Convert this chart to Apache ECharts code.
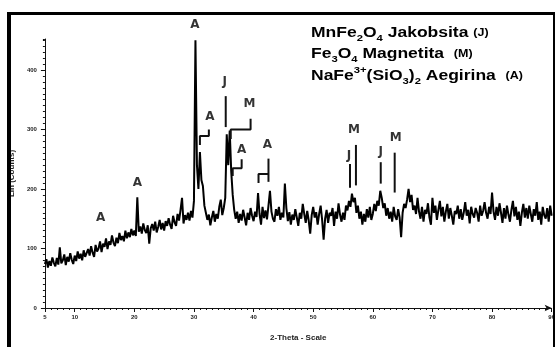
<!DOCTYPE html>
<html>
<head>
<meta charset="utf-8">
<script src="https://cdn.jsdelivr.net/npm/echarts@6/dist/echarts.min.js"></script>
<style>html,body{margin:0;padding:0;background:#fff;}#c{width:558px;height:347px;}</style>
</head>
<body>
<div id="c"></div>
<script>
// ---- data ----
const thetaStart = 5;
const thetaStep = 0.25;
const counts = [
  74, 82, 68, 79,   71, 85, 76, 70,   84, 73, 102, 75,  80, 90, 72, 86,   78, 92, 81, 74,      // 5-9.75
  88, 79, 95, 83,   91, 80, 97, 86,   84, 99, 88, 104,  93, 86, 106, 95,  100, 112, 94, 108,   // 10-14.75
  103, 117, 99, 112, 106, 122, 110, 104, 118, 109, 126, 114, 121, 112, 130, 117, 127, 119, 133, 122, // 15-19.75
  130, 121, 186, 128, 137, 125, 142, 131, 126, 139, 108, 134, 141, 130, 145, 127, 136, 148, 132, 143, // 20-24.75
  130, 146, 138, 151, 140, 133, 155, 144, 138, 158, 147, 165, 185, 142, 156, 148, 160, 147, 163, 152, // 25-29.75
  180, 450, 240, 200, 262, 215, 205, 172, 160, 148, 157, 139, 152, 163, 145, 158, 150, 170, 182, 156, // 30-34.75
  168, 185, 292, 240, 298, 230, 190, 165, 150, 162, 143, 158, 147, 165, 152, 139, 160, 148, 168, 155, // 35-39.75
  146, 162, 153, 193, 158, 140, 170, 151, 164, 149, 172, 197, 162, 150, 145, 166, 155, 170, 148, 160, // 40-44.75
  152, 209, 168, 146, 161, 140, 157, 148, 166, 152, 138, 160, 150, 175, 158, 143, 163, 147, 125, 156, // 45-49.75
  170, 152, 161, 140, 158, 172, 148, 115, 150, 165, 143, 160, 155, 168, 138, 162, 150, 176, 157, 145, // 50-54.75
  160, 148, 172, 164, 180, 170, 192, 178, 185, 160, 172, 150, 162, 140, 158, 145, 166, 152, 170, 148, // 55-59.75
  158, 175, 163, 180, 172, 197, 185, 168, 176, 155, 168, 150, 162, 145, 170, 154, 148, 166, 152, 119, // 60-64.75
  160, 175, 168, 182, 200, 178, 190, 165, 172, 158, 185, 162, 150, 170, 145, 165, 158, 176, 152, 140, // 65-69.75
  185, 160, 172, 148, 165, 180, 154, 170, 145, 162, 175, 150, 168, 155, 140, 163, 158, 172, 150, 166, // 70-74.75
  148, 160, 178, 155, 165, 142, 170, 158, 152, 168, 160, 145, 172, 155, 163, 178, 160, 150, 170, 158, // 75-79.75
  194, 162, 148, 170, 155, 176, 160, 143, 168, 150, 172, 157, 145, 165, 180, 154, 170, 148, 162, 138, // 80-84.75
  160, 175, 152, 168, 150, 172, 158, 145, 166, 155, 178, 148, 162, 140, 170, 156, 150, 168, 145, 172, // 85-89.75
  155                                                                                                  // 90
];
const xTickLabels = [5, 10, 20, 30, 40, 50, 60, 70, 80, 90];
const yTickLabels = [0, 100, 200, 300, 400];
const peakLabels      = ['A',   'A',   'A',   'A',   'J',   'M',   'A',  'A',   'J',  'M',   'J',   'M'];
const peakLabelTheta  = [30.17, 20.5,  14.33, 32.67, 35.17, 39.33, 38.0, 42.33, 56.0, 56.83, 61.33, 63.83];
const peakLabelCount  = [475,   210,   152,   321,   380,   343,   266,  274,   256,  299,   263,   286];
const markerPaths = [
  [[35.33, 356], [35.33, 304]],
  [[32.5, 300], [32.5, 289], [31.0, 289], [31.0, 274]],
  [[39.5, 318], [39.5, 300], [36.17, 300], [36.17, 284]],
  [[38.0, 250], [38.0, 235], [36.5, 235], [36.5, 222]],
  [[42.5, 251], [42.5, 212]],
  [[42.5, 225], [40.83, 225], [40.83, 210]],
  [[56.17, 242], [56.17, 202]],
  [[57.17, 274], [57.17, 206]],
  [[61.33, 245], [61.33, 209]],
  [[63.67, 261], [63.67, 194]]
];

// ---- chart ----
const chart = echarts.init(document.getElementById('c'), null, {renderer: 'canvas'});
const traceData = counts.map((c, i) => [thetaStart + i * thetaStep, c]);
const labelData = peakLabels.map((t, i) => ({name: t, value: [peakLabelTheta[i], peakLabelCount[i]]}));

const richLegend = {
  m: {fontSize: 14, fontWeight: 'bold', fontFamily: 'Liberation Sans', lineHeight: 20, fill: '#000', color: '#000'},
  s: {fontSize: 9, fontWeight: 'bold', fontFamily: 'Liberation Sans', lineHeight: 10, verticalAlign: 'bottom', fill: '#000', color: '#000'},
  u: {fontSize: 9, fontWeight: 'bold', fontFamily: 'Liberation Sans', lineHeight: 14, verticalAlign: 'top', fill: '#000', color: '#000'},
  p: {fontSize: 10, fontWeight: 'bold', fontFamily: 'Liberation Sans', lineHeight: 20, verticalAlign: 'middle', fill: '#000', color: '#000'}
};
function legendText(txt, x, y) {
  return {type: 'text', x: x, y: y, scaleX: 1.25, z: 100,
    style: {text: txt, rich: richLegend, verticalAlign: 'top', align: 'left', fill: '#000'}};
}

const lineSeries = markerPaths.map(p => ({
  type: 'line', data: p, symbol: 'none', clip: false, silent: true, z: 5,
  lineStyle: {color: '#111', width: 2}, animation: false
}));

chart.setOption({
  backgroundColor: '#fff',
  animation: false,
  grid: {left: 42, right: 6, top: 39, bottom: 31},
  xAxis: [{
    type: 'value', min: 5, max: 90, interval: 5,
    name: '2-Theta - Scale', nameLocation: 'middle', nameGap: 26,
    nameTextStyle: {fontSize: 8, fontWeight: 'bold', color: '#222', fontFamily: 'Liberation Sans'},
    axisLine: {show: true, lineStyle: {color: '#111', width: 1}, symbol: ['none', 'arrow'], symbolSize: [5, 7]},
    axisTick: {show: true, length: 4, lineStyle: {color: '#111'}, customValues: xTickLabels},
    axisLabel: {show: true, fontSize: 6, fontWeight: 'bold', color: '#222', margin: 6, customValues: xTickLabels,
      formatter: v => (v === 5 || v % 10 === 0) ? String(v) : ''},
    splitLine: {show: false}
  }, {
    type: 'value', min: 5, max: 90, interval: 1, position: 'bottom',
    axisLine: {show: false}, axisLabel: {show: false}, splitLine: {show: false},
    axisTick: {show: true, length: 2, lineStyle: {color: '#111'}}
  }],
  yAxis: [{
    type: 'value', min: 0, max: 452, interval: 100, position: 'left',
    name: 'Lin (Counts)', nameLocation: 'middle', nameGap: 26, nameRotate: 90,
    nameTextStyle: {fontSize: 8, fontWeight: 'bold', color: '#222', fontFamily: 'Liberation Sans'},
    axisLine: {show: true, lineStyle: {color: '#111', width: 1}},
    axisTick: {show: true, length: 4, lineStyle: {color: '#111'}},
    axisLabel: {show: true, fontSize: 6, fontWeight: 'bold', color: '#222', margin: 8, showMaxLabel: false,
      formatter: v => yTickLabels.indexOf(v) >= 0 ? String(v) : ''},
    splitLine: {show: false}
  }, {
    type: 'value', min: 0, max: 452, interval: 10, position: 'left', offset: 0,
    axisLine: {show: false}, axisLabel: {show: false}, splitLine: {show: false},
    axisTick: {show: true, length: 2, lineStyle: {color: '#111'}}
  }],
  series: [{
    type: 'line', data: traceData, symbol: 'none', silent: true, clip: false, z: 3,
    lineStyle: {color: '#000', width: 2}
  }, {
    type: 'scatter', data: labelData, symbolSize: 1, clip: false, silent: true, z: 6,
    itemStyle: {color: 'transparent'},
    label: {show: true, position: 'inside', formatter: p => p.name,
      fontSize: 12, fontWeight: 'bold', fontFamily: 'DejaVu Sans', color: '#000'}
  }].concat(lineSeries),
  graphic: [
    {type: 'rect', shape: {x: 7, y: 12, width: 4, height: 335}, style: {fill: '#000'}, z: 100},
    {type: 'rect', shape: {x: 7, y: 12, width: 548, height: 3}, style: {fill: '#000'}, z: 100},
    {type: 'rect', shape: {x: 553, y: 12, width: 2, height: 335}, style: {fill: '#000'}, z: 100},
    legendText('{m|MnFe}{s|2}{m|O}{s|4}{m| Jakobsita }{p|(J)}', 311, 23),
    legendText('{m|Fe}{s|3}{m|O}{s|4}{m| Magnetita  }{p|(M)}', 311, 44),
    legendText('{m|NaFe}{u|3+}{m|(SiO}{s|3}{m|)}{s|2}{m| Aegirina  }{p|(A)}', 311, 66)
  ]
});
</script>
</body>
</html>
